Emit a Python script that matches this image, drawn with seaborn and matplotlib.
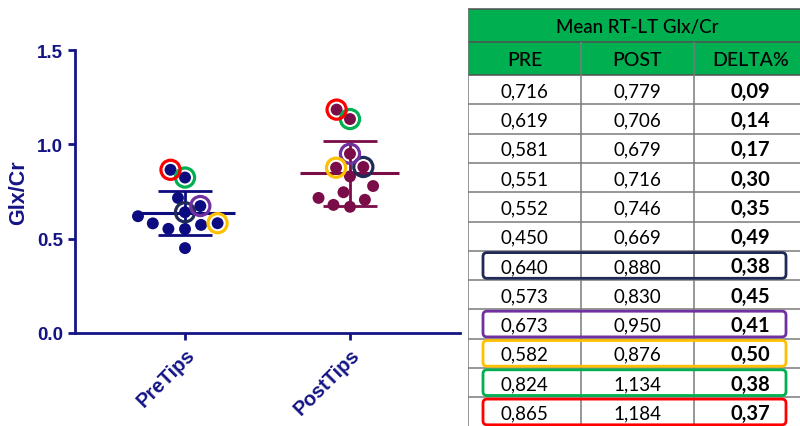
import numpy as np
import pandas as pd
import matplotlib
matplotlib.use("Agg")
import matplotlib.pyplot as plt
import seaborn as sns
from matplotlib.patches import Rectangle, FancyBboxPatch

# --- data ---
GROUPS = ["PreTips", "PostTips"]
PRE = [0.716, 0.619, 0.581, 0.551, 0.552, 0.450, 0.640, 0.573, 0.673, 0.582, 0.824, 0.865]
POST = [0.779, 0.706, 0.679, 0.716, 0.746, 0.669, 0.880, 0.830, 0.950, 0.876, 1.134, 1.184]
DELTA = [0.09, 0.14, 0.17, 0.30, 0.35, 0.49, 0.38, 0.45, 0.41, 0.50, 0.38, 0.37]
# table row -> outline colour (same colour circles the point in the plot)
HIGHLIGHT = {6: "#1f2a56", 8: "#7030a0", 9: "#ffc000", 10: "#00b050", 11: "#ff0000"}
TABLE_TITLE = "Mean RT-LT Glx/Cr"
COLUMNS = ["PRE", "POST", "DELTA%"]
Y_TICKS = [0.0, 0.5, 1.0, 1.5]

NAVY = "#141485"
PALETTE = {"PreTips": "#0c0c80", "PostTips": "#7a0c48"}
GREEN = "#00b050"


def comma(v, nd):
    return f"{v:.{nd}f}".replace(".", ",")


def draw_plot(fig):
    ax = fig.add_axes([75 / 800, 1 - 334 / 427, 385 / 800, 283 / 427])

    df = pd.DataFrame({
        "group": np.repeat(GROUPS, len(PRE)),
        "value": PRE + POST,
    })

    # white rim keeps gaps between dots, like the original swarm
    sns.swarmplot(data=df, x="group", y="value", hue="group", order=GROUPS,
                  palette=PALETTE, size=10, linewidth=1.4, edgecolor="white",
                  legend=False, ax=ax)
    swarm_cols = list(ax.collections)

    ax.set_xlim(-0.667, 1.667)
    ax.set_ylim(0, 1.5)

    # mean +/- SD
    stats = df.groupby("group")["value"].agg(["mean", "std"]).reindex(GROUPS)
    for i, g in enumerate(GROUPS):
        m, s = stats.loc[g, "mean"], stats.loc[g, "std"]
        c = PALETTE[g]
        ax.hlines(m, i - 0.3, i + 0.3, color=c, lw=2.2, zorder=3)
        ax.vlines(i, m - s, m + s, color=c, lw=2, zorder=3)
        ax.hlines([m - s, m + s], i - 0.165, i + 0.165, color=c, lw=2, zorder=3)

    # swarm positions are computed at draw time
    fig.canvas.draw()
    pts = np.concatenate([c.get_offsets() for c in swarm_cols])
    for row, col in HIGHLIGHT.items():
        for i, vals in enumerate([PRE, POST]):
            cand = pts[np.abs(pts[:, 0] - i) < 0.5]
            x, y = cand[np.argmin(np.abs(cand[:, 1] - vals[row]))]
            ax.scatter([x], [y], s=190, facecolors="none", edgecolors=col,
                       linewidths=2.3, zorder=5)

    for side in ["top", "right"]:
        ax.spines[side].set_visible(False)
    for side in ["left", "bottom"]:
        ax.spines[side].set_color(NAVY)
        ax.spines[side].set_linewidth(2)

    ax.set_yticks(Y_TICKS)
    ax.set_yticklabels([f"{t:.1f}" for t in Y_TICKS])
    ax.tick_params(colors=NAVY, width=2, length=5)
    for lab in ax.get_yticklabels():
        lab.set_fontsize(13.5)
        lab.set_fontweight("bold")
    ax.set_xticks(range(len(GROUPS)))
    ax.set_xticklabels(GROUPS, rotation=45, ha="right", rotation_mode="anchor",
                       fontsize=14.5, fontweight="bold", color=NAVY)
    ax.set_xlabel("")
    ax.set_ylabel("Glx/Cr", fontsize=15.5, fontweight="bold", color=NAVY, labelpad=6)


def draw_table(fig):
    # axes in pixel-like units so rounded boxes stay round
    tax = fig.add_axes([468 / 800, 0, 339 / 800, 1])
    W = 339
    col_w = W / len(COLUMNS)
    tax.set_xlim(0, W)
    tax.set_ylim(427, 0)
    tax.axis("off")

    top, h_head, h_row = 10, 33, 29.3
    y_data = top + 2 * h_head
    n = len(PRE)
    bottom = y_data + n * h_row

    tax.add_patch(Rectangle((0, top), W, 2 * h_head, facecolor=GREEN,
                            edgecolor="none", zorder=0))

    grid = "#7a7a7a"
    tax.hlines([top, top + h_head, y_data], 0, W, color="#505050", lw=1.1)
    tax.hlines([y_data + i * h_row for i in range(1, n + 1)], 0, W, color=grid, lw=1.1)
    tax.vlines(0, top, bottom, color=grid, lw=1.1)
    tax.vlines([col_w * j for j in range(1, len(COLUMNS))], top + h_head, bottom,
               color=grid, lw=1.1)

    fkw = dict(family="Lato", ha="center", va="center", color="black")
    tax.text(W / 2, top + h_head / 2 + 1, TABLE_TITLE, fontsize=13.5,
             fontweight="medium", **fkw)
    for j, name in enumerate(COLUMNS):
        tax.text((j + 0.5) * col_w, top + 1.5 * h_head + 1, name, fontsize=14,
                 fontweight="medium", **fkw)

    for i in range(n):
        yc = y_data + (i + 0.5) * h_row + 1
        tax.text(0.5 * col_w, yc, comma(PRE[i], 3), fontsize=13.5, **fkw)
        tax.text(1.5 * col_w, yc, comma(POST[i], 3), fontsize=13.5, **fkw)
        tax.text(2.5 * col_w, yc, comma(DELTA[i], 2), fontsize=14.5,
                 fontweight="bold", **fkw)

    for row, col in HIGHLIGHT.items():
        y0 = y_data + row * h_row + 1.8
        tax.add_patch(FancyBboxPatch((15, y0), 303, h_row - 3.6,
                                     boxstyle="round,pad=0,rounding_size=4",
                                     facecolor="none", edgecolor=col, lw=2, zorder=4))


def main():
    fig = plt.figure(figsize=(8, 4.27), dpi=100)
    plt.rcParams["font.family"] = ["Liberation Sans", "DejaVu Sans"]
    draw_plot(fig)
    draw_table(fig)
    fig.savefig("out.png", dpi=100)
    plt.close(fig)


if __name__ == "__main__":
    main()
